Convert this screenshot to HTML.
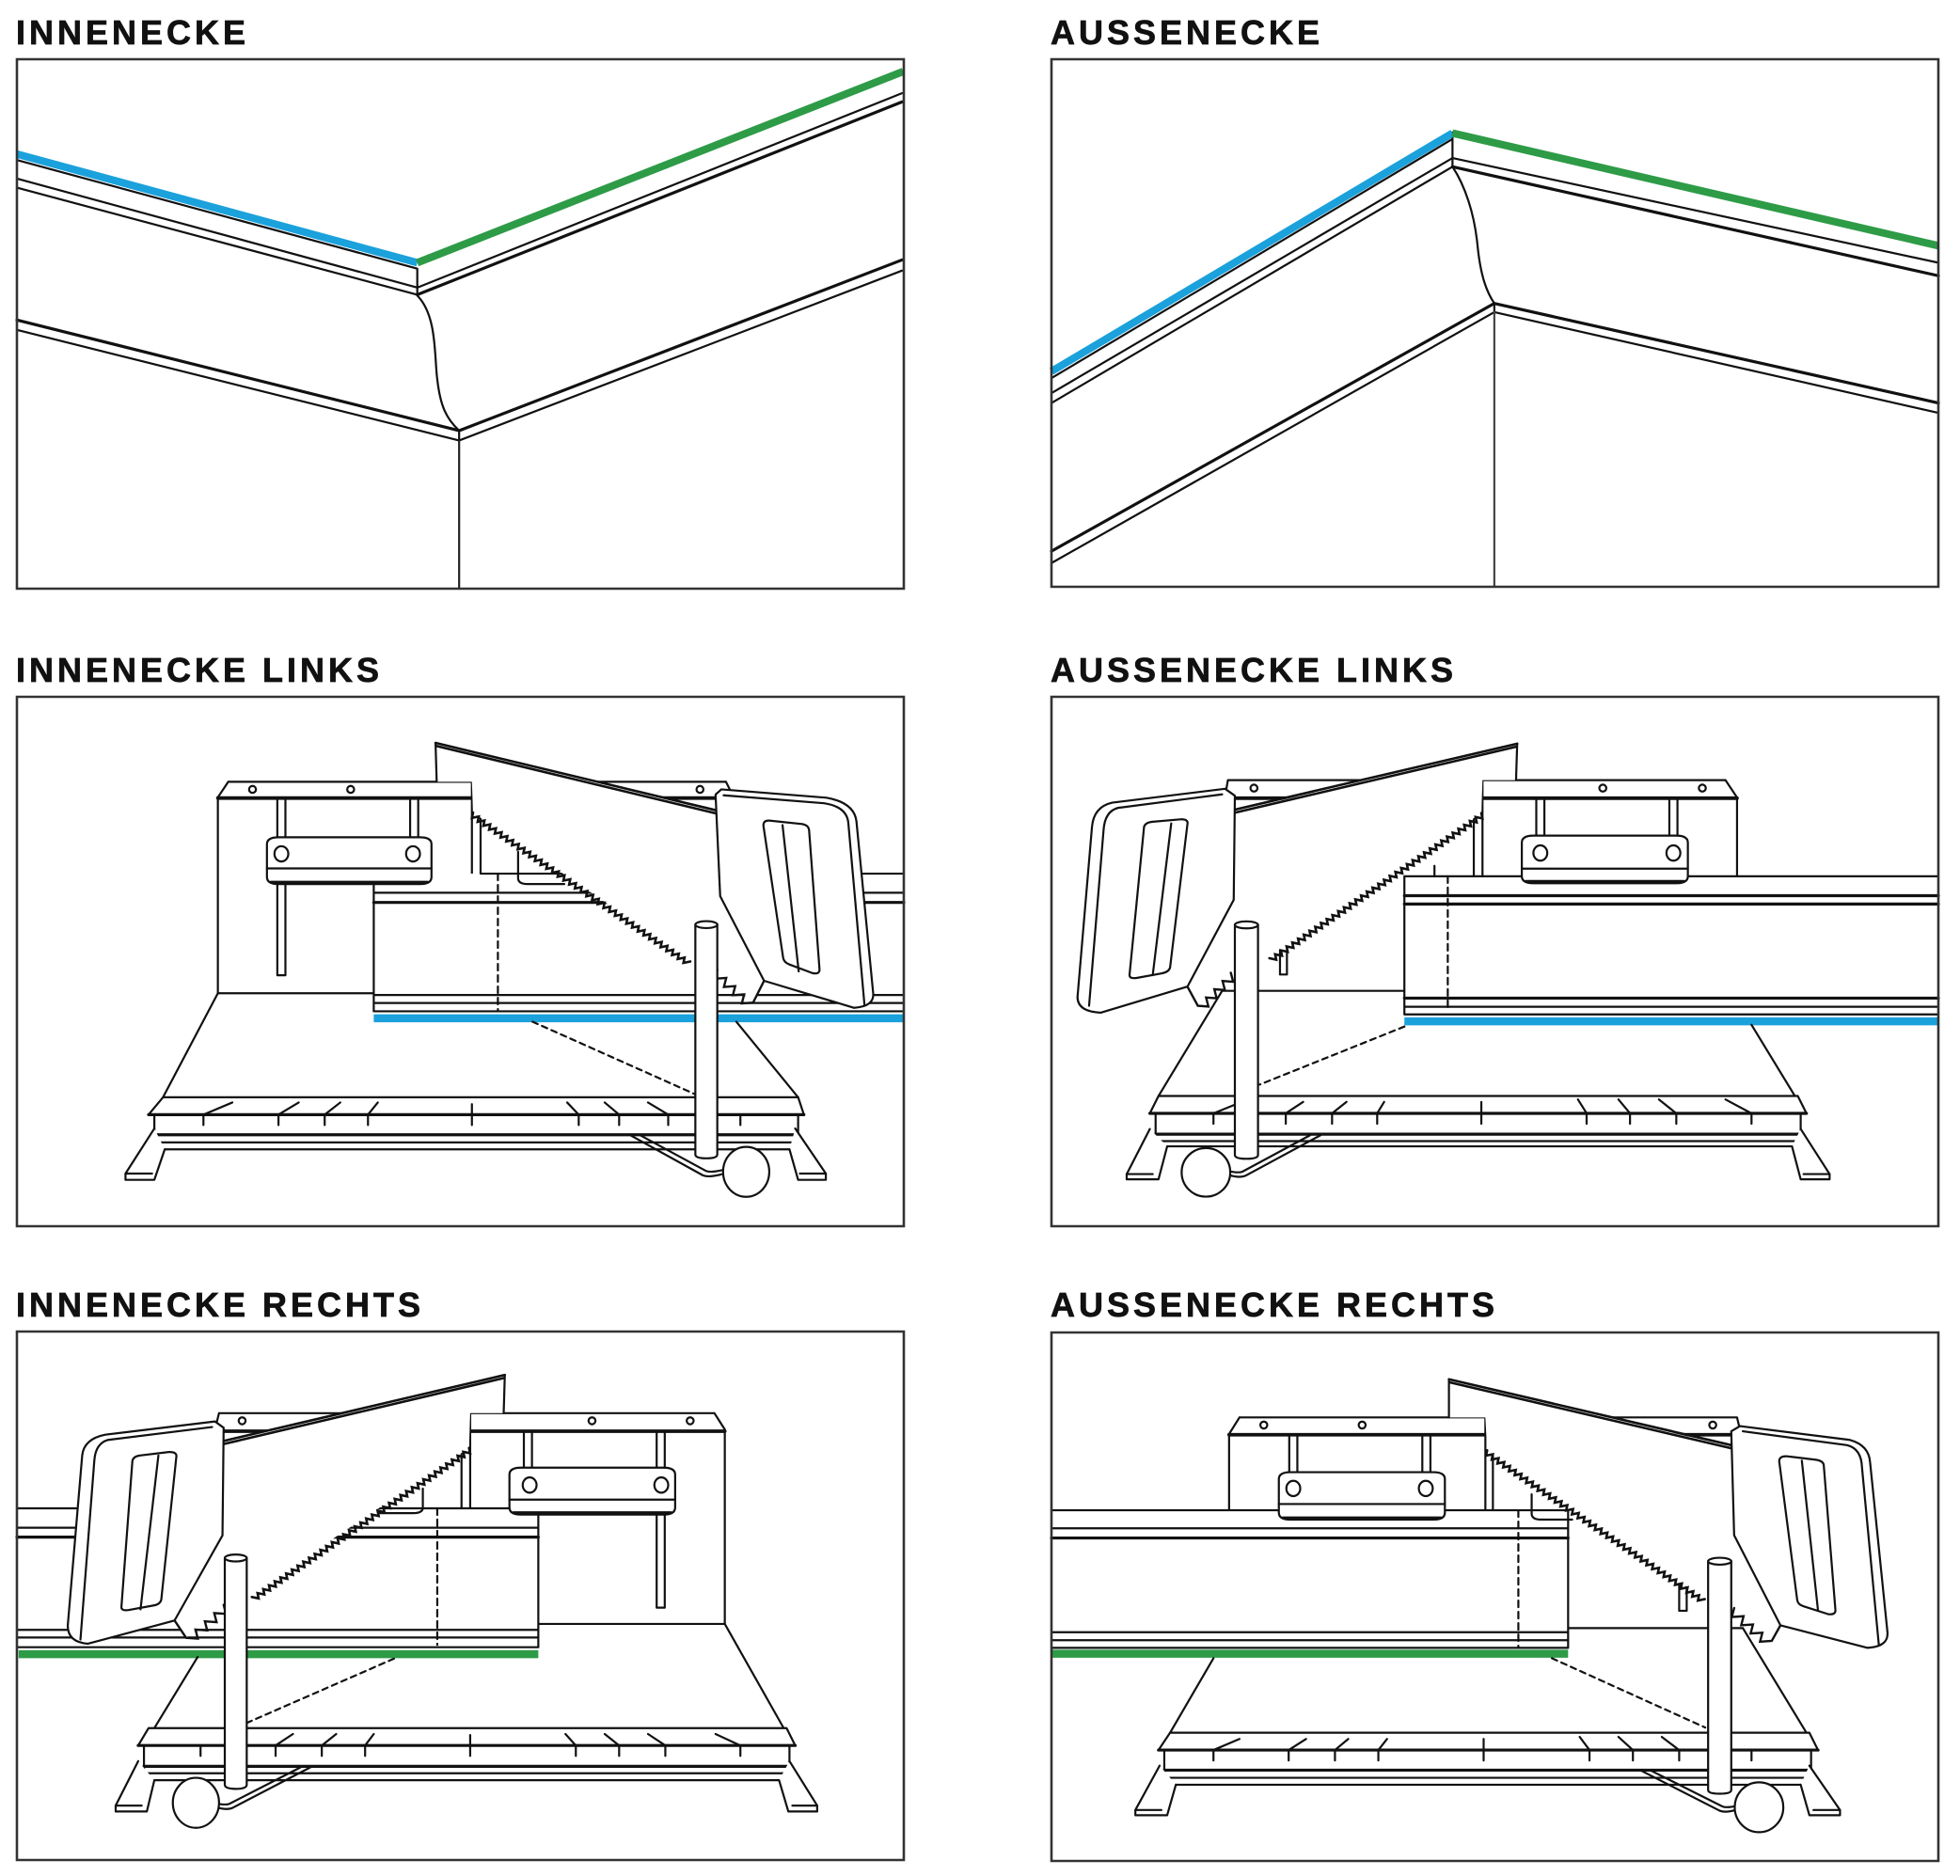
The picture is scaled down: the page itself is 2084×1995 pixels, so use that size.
<!DOCTYPE html>
<html><head><meta charset="utf-8"><title>Innenecke / Aussenecke</title>
<style>
html,body{margin:0;padding:0;background:#fff;}
svg{display:block;}
svg path, svg ellipse, svg rect{vector-effect:non-scaling-stroke;}
</style></head>
<body>
<svg xmlns="http://www.w3.org/2000/svg" width="2084" height="1995" viewBox="0 0 2084 1995">
<rect x="0" y="0" width="2084" height="1995" fill="#fff"/>

<!-- TITLES -->
<g font-family="Liberation Sans, Arial, sans-serif" font-weight="bold" font-size="36" letter-spacing="4" fill="#111" stroke="#111" stroke-width="0.7">
<text x="17" y="47">INNENECKE</text>
<text x="1117" y="47">AUSSENECKE</text>
<text x="17" y="725">INNENECKE LINKS</text>
<text x="1117" y="725">AUSSENECKE LINKS</text>
<text x="17" y="1400">INNENECKE RECHTS</text>
<text x="1117" y="1400">AUSSENECKE RECHTS</text>
</g>

<!-- PANEL 1 INNENECKE -->
<g transform="matrix(0.66408 0 0 0.42016 0.074 -0.024)" fill="none" stroke="#111" stroke-width="2.2" stroke-linejoin="round" stroke-linecap="round">
<path d="M27,405 L668,680 M27,452 L668,728 M27,475 L668,746 M668,728 L1444,236 M668,680 L668,746"/>
<path stroke-width="3.2" d="M668,746 L1444,258"/>
<path stroke-width="3.2" d="M27,810 L735,1090 L1444,658"/>
<path d="M27,835 L735,1115 L1444,685 M735,1090 L735,1115"/>
<path d="M668,748 C700,800 695,900 700,960 C705,1030 715,1060 735,1090"/>
<path stroke="#222" d="M735,1115 V1490"/>
<path stroke="#1ba1db" stroke-width="8" stroke-linecap="butt" d="M27,390 L668,665"/>
<path stroke="#2e9b47" stroke-width="8" stroke-linecap="butt" d="M668,665 L1446,181"/>
</g>

<!-- PANEL 2 AUSSENECKE -->
<g transform="matrix(0.66408 0 0 0.42020 1043.0 -0.05)" fill="none" stroke="#111" stroke-width="2.2" stroke-linejoin="round" stroke-linecap="round">
<path d="M113,957 L755,352 M113,995 L755,400 M113,1020 L755,422 M755,400 L1533,665 M755,335 L755,422"/>
<path stroke-width="3.2" d="M755,422 L1533,698"/>
<path stroke-width="3.2" d="M113,1395 L822,768 L1533,1020"/>
<path d="M113,1425 L822,790 L1533,1045 M822,768 V790"/>
<path d="M755,422 C775,470 790,540 795,620 C800,700 810,740 822,768"/>
<path stroke="#444" d="M822,790 V1485"/>
<path stroke="#1ba1db" stroke-width="8" stroke-linecap="butt" d="M113,940 L755,337"/>
<path stroke="#2e9b47" stroke-width="8" stroke-linecap="butt" d="M755,337 L1533,622"/>
</g>

<!-- PANEL 3 INNENECKE LINKS -->
<g transform="matrix(0.61390 0 0 0.36875 10.647 739.15)" fill="none" stroke="#111" stroke-width="2.2" stroke-linejoin="round" stroke-linecap="round">
<path d="M378,250 H1240 M378,250 L360,295 M1240,250 L1252,290 M360,295 V860 M360,860 H630 M800,250 V515 M815,302 V515"/>
<path stroke-width="3.8" d="M360,297 H1252"/>
<ellipse cx="420" cy="272" rx="6" ry="10"/><ellipse cx="590" cy="272" rx="6" ry="10"/><ellipse cx="1195" cy="272" rx="6" ry="10"/>
<path d="M463,302 V808 H477 V302 M693,302 V410 M707,302 V410"/>
<rect x="630" y="515" width="918" height="397" fill="#fff" stroke="none"/>
<path d="M815,515 H1548 M630,570 H1548 M630,865 H1548 M630,888 H1548 M630,912 H1548 M630,545 V912"/>
<path stroke-width="3.2" d="M630,598 H1548"/>
<path stroke-dasharray="7 5" d="M845,515 V912"/>
<path d="M880,452 V528 Q880,545 897,545 H960"/>
<path fill="#fff" d="M465,410 H710 Q730,410 730,430 V525 Q730,545 710,545 H465 Q445,545 445,525 V430 Q445,410 465,410 Z"/>
<path d="M445,500 H730"/><path stroke-width="3.2" d="M452,540 H723"/>
<ellipse cx="470" cy="458" rx="12" ry="22"/><ellipse cx="698" cy="458" rx="12" ry="22"/>
<path fill="#fff" stroke="none" d="M737,138 L1222,332 L1230,580 L1306,824 L1287,887 L1225,792 L1180,766 L802,339 L800,250 L739,250 Z"/>
<path stroke-width="2.6" d="M737,138 L1222,332 M739,147 L1222,341"/>
<path d="M737,138 L739,250"/>
<path stroke-width="2.6" stroke-linejoin="miter" d="M802,339 l-1.9,15.4 11.8,-4.1 -1.9,15.4 11.8,-4.1 -1.9,15.4 11.8,-4.1 -1.9,15.4 11.8,-4.1 -1.9,15.4 11.8,-4.1 -1.9,15.4 11.8,-4.1 -1.9,15.4 11.8,-4.1 -1.9,15.4 11.8,-4.1 -1.9,15.4 11.8,-4.1 -1.9,15.4 11.8,-4.1 -1.9,15.4 11.8,-4.1 -1.9,15.4 11.8,-4.1 -1.9,15.4 11.8,-4.1 -1.9,15.4 11.8,-4.1 -1.9,15.4 11.8,-4.1 -1.9,15.4 11.8,-4.1 -1.9,15.4 11.8,-4.1 -1.9,15.4 11.8,-4.1 -1.9,15.4 11.8,-4.1 -1.9,15.4 11.8,-4.1 -1.9,15.4 11.8,-4.1 -1.9,15.4 11.8,-4.1 -1.9,15.4 11.8,-4.1 -1.9,15.4 11.8,-4.1 -1.9,15.4 11.8,-4.1 -1.9,15.4 11.8,-4.1 -1.9,15.4 11.8,-4.1 -1.9,15.4 11.8,-4.1 -1.9,15.4 11.8,-4.1 -1.9,15.4 11.8,-4.1 -1.9,15.4 11.8,-4.1 -1.9,15.4 11.8,-4.1 -1.9,15.4 11.8,-4.1 -1.9,15.4 11.8,-4.1 -1.9,15.4 11.8,-4.1 -1.9,15.4 11.8,-4.1 -1.9,15.4 11.8,-4.1 -1.9,15.4 11.8,-4.1"/>
<path stroke-width="2.4" stroke-linejoin="miter" d="M1225,792 l-4,26 19.5,-2.25 -4,26 19.5,-2.25 -4,26 19.5,-2.25 -4,26 19.5,-2.25 L1306,824"/>
<path fill="#fff" d="M1222,287 L1232,272 L1414,296 Q1462,310 1466,364 L1495,860 Q1497,898 1462,902 L1306,824 L1230,580 Z"/>
<path d="M1236,289 L1410,312 Q1450,322 1452,370 L1480,895"/>
<path d="M1315,362 L1372,372 Q1383,375 1384,390 L1402,790 Q1403,806 1390,802 L1350,777 Q1340,771 1339,757 L1305,378 Q1304,361 1315,362 Z"/>
<path d="M1338,375 L1366,797"/>
<path stroke="#1ba1db" stroke-width="8.5" stroke-linecap="butt" d="M630,932 H1548"/>
<path d="M360,860 L265,1160 M1258,942 L1365,1160"/>
<path stroke-dasharray="6 5" d="M905,942 L1185,1150"/>
<path fill="#fff" d="M265,1160 H1365 L1375,1210 H240 Z"/>
<path stroke-width="3.2" d="M240,1210 H1375"/>
<path d="M250,1210 V1305 M1365,1210 V1305 M255,1290 H1365 M255,1310 H1365"/>
<path stroke-width="3.2" d="M250,1268 H1365"/>
<path d="M335,1210 V1240 M465,1210 V1240 M545,1210 V1240 M620,1210 V1240 M800,1180 V1240 M985,1210 V1240 M1055,1210 V1240 M1140,1210 V1240 M1265,1210 V1240 M335,1210 L385,1175 M465,1210 L500,1175 M545,1210 L572,1175 M620,1210 L637,1175 M985,1210 L965,1175 M1055,1210 L1030,1175 M1140,1210 L1105,1175"/>
<path fill="#fff" d="M250,1250 L200,1380 V1398 H250 L268,1310 M1360,1250 L1413,1380 V1398 H1365 L1350,1310"/>
<path d="M200,1380 H246 M1413,1380 H1368"/>
<path d="M1075,1270 L1200,1385 Q1210,1392 1232,1382 M1092,1270 L1205,1372 Q1212,1378 1234,1370"/>
<ellipse cx="1275" cy="1375" rx="40" ry="72" fill="#fff"/>
<path fill="#fff" d="M1187,662 V1325 Q1187,1336 1206,1336 Q1225,1336 1225,1325 V662"/>
<ellipse cx="1206" cy="662" rx="19" ry="10" fill="#fff"/>
</g>

<!-- PANEL 4 AUSSENECKE LINKS -->
<g transform="matrix(0.61514 0 0 0.36915 1114.92 739.15)" fill="none" stroke="#111" stroke-width="2.2" stroke-linejoin="round" stroke-linecap="round">
<path d="M310,245 H1170 M310,245 L305,292 M1170,245 L1190,295 M1190,295 V522 M750,245 V522 M735,302 V522 M667,492 V522 M300,852 H615"/>
<path stroke-width="3.8" d="M305,297 H1190"/>
<ellipse cx="355" cy="268" rx="6" ry="10"/><ellipse cx="958" cy="268" rx="6" ry="10"/><ellipse cx="1130" cy="268" rx="6" ry="10"/>
<path d="M400,735 V805 H412 V735"/>
<path d="M843,302 V410 M857,302 V410 M1073,302 V410 M1087,302 V410"/>
<rect x="615" y="522" width="923" height="398" fill="#fff" stroke="none"/>
<path d="M615,522 H1538 M615,898 H1538 M615,920 H1538 M615,522 V920"/>
<path stroke-width="3.2" d="M615,578 H1538 M615,602 H1538 M615,873 H1538"/>
<path stroke-dasharray="7 5" d="M690,522 V912"/>
<path fill="#fff" d="M838,405 H1085 Q1105,405 1105,425 V522 Q1105,542 1085,542 H838 Q818,542 818,522 V425 Q818,405 838,405 Z"/>
<path d="M818,500 H1105"/><path stroke-width="3.2" d="M825,537 H1098"/>
<ellipse cx="850" cy="455" rx="12" ry="22"/><ellipse cx="1080" cy="455" rx="12" ry="22"/>
<path fill="#fff" stroke="none" d="M810,140 L322,335 L320,590 L240,840 L258,895 L315,800 L365,770 L748,340 L750,245 L808,245 Z"/>
<path stroke-width="2.6" d="M810,140 L322,330 M808,149 L322,339"/>
<path d="M810,140 L808,245"/>
<path stroke-width="2.6" stroke-linejoin="miter" d="M748,340 l1.9,15.4 -11.8,-4.1 1.9,15.4 -11.8,-4.1 1.9,15.4 -11.8,-4.1 1.9,15.4 -11.8,-4.1 1.9,15.4 -11.8,-4.1 1.9,15.4 -11.8,-4.1 1.9,15.4 -11.8,-4.1 1.9,15.4 -11.8,-4.1 1.9,15.4 -11.8,-4.1 1.9,15.4 -11.8,-4.1 1.9,15.4 -11.8,-4.1 1.9,15.4 -11.8,-4.1 1.9,15.4 -11.8,-4.1 1.9,15.4 -11.8,-4.1 1.9,15.4 -11.8,-4.1 1.9,15.4 -11.8,-4.1 1.9,15.4 -11.8,-4.1 1.9,15.4 -11.8,-4.1 1.9,15.4 -11.8,-4.1 1.9,15.4 -11.8,-4.1 1.9,15.4 -11.8,-4.1 1.9,15.4 -11.8,-4.1 1.9,15.4 -11.8,-4.1 1.9,15.4 -11.8,-4.1 1.9,15.4 -11.8,-4.1 1.9,15.4 -11.8,-4.1 1.9,15.4 -11.8,-4.1 1.9,15.4 -11.8,-4.1 1.9,15.4 -11.8,-4.1 1.9,15.4 -11.8,-4.1 1.9,15.4 -11.8,-4.1 1.9,15.4 -11.8,-4.1 1.9,15.4 -11.8,-4.1 1.9,15.4 -11.8,-4.1 1.9,15.4 -11.8,-4.1 1.9,15.4 -11.8,-4.1 1.9,15.4 -11.8,-4.1"/>
<path stroke-width="2.4" stroke-linejoin="miter" d="M315,800 l4,26 -18.25,-2.25 4,26 -18.25,-2.25 4,26 -18.25,-2.25 4,26 -18.25,-2.25 L240,840"/>
<path fill="#fff" d="M322,290 L305,270 L110,310 Q78,322 75,380 L50,870 Q50,912 90,915 L240,840 L320,590 Z"/>
<path d="M300,286 L120,325 Q97,335 95,390 L70,895"/>
<path d="M180,365 L228,358 Q242,357 240,372 L210,785 Q208,798 195,802 L152,815 Q139,818 140,805 L165,380 Q167,367 180,365 Z"/>
<path d="M212,370 L180,807"/>
<path stroke="#1ba1db" stroke-width="8.5" stroke-linecap="butt" d="M615,940 H1538"/>
<path d="M300,852 L190,1155 M1215,950 L1290,1155"/>
<path stroke-dasharray="6 5" d="M615,955 L365,1122"/>
<path fill="#fff" d="M190,1155 H1295 L1310,1205 H175 Z"/>
<path stroke-width="3.2" d="M175,1205 H1310"/>
<path d="M185,1205 V1300 M1300,1205 V1300 M185,1285 H1300 M190,1300 H1300"/>
<path stroke-width="3.2" d="M185,1265 H1300"/>
<path d="M285,1205 V1235 M410,1205 V1235 M490,1205 V1235 M568,1205 V1235 M748,1172 V1235 M930,1205 V1235 M1005,1205 V1235 M1085,1205 V1235 M1215,1205 V1235 M285,1205 L325,1178 M410,1205 L440,1172 M490,1205 L515,1172 M568,1205 L580,1172 M930,1205 L915,1165 M1005,1205 L985,1165 M1085,1205 L1055,1165 M1215,1205 L1170,1165"/>
<path fill="#fff" d="M175,1250 L135,1380 V1395 H190 L205,1300 M1300,1250 L1350,1380 V1395 H1300 L1285,1300"/>
<path d="M135,1380 H180 M1350,1380 H1305"/>
<path d="M470,1268 L340,1385 Q330,1392 310,1382 M452,1268 L335,1373 Q328,1378 308,1370"/>
<ellipse cx="272" cy="1375" rx="42" ry="70" fill="#fff"/>
<path fill="#fff" d="M322,662 V1325 Q322,1336 342,1336 Q362,1336 362,1325 V662"/>
<ellipse cx="342" cy="662" rx="20" ry="10" fill="#fff"/>
</g>

<!-- PANEL 5 INNENECKE RECHTS -->
<g transform="matrix(0.61390 0 0 0.36929 10.647 1414.9)" fill="none" stroke="#111" stroke-width="2.2" stroke-linejoin="round" stroke-linecap="round">
<path d="M362,238 H1220 M362,238 L355,285 M1220,238 L1238,285 M1238,285 V845 M915,845 H1238 M797,238 V512 M782,300 V512"/>
<path stroke-width="3.8" d="M355,290 H1238"/>
<ellipse cx="402" cy="260" rx="6" ry="10"/><ellipse cx="1008" cy="260" rx="6" ry="10"/><ellipse cx="1178" cy="260" rx="6" ry="10"/>
<path d="M890,290 V400 M904,290 V400 M1120,290 V798 H1134 V290"/>
<rect x="12" y="512" width="903" height="400" fill="#fff" stroke="none"/>
<path d="M12,512 H915 M12,568 H915 M12,862 H915 M12,884 H915 M12,912 H915 M915,530 V912"/>
<path stroke-width="3.2" d="M12,595 H915"/>
<path stroke-dasharray="7 5" d="M740,512 V905"/>
<path d="M715,455 V510 Q715,526 698,526 H640"/>
<path fill="#fff" d="M885,395 H1132 Q1152,395 1152,415 V510 Q1152,530 1132,530 H885 Q865,530 865,510 V415 Q865,395 885,395 Z"/>
<path d="M865,487 H1152"/><path stroke-width="3.2" d="M872,525 H1145"/>
<ellipse cx="900" cy="445" rx="12" ry="22"/><ellipse cx="1128" cy="445" rx="12" ry="22"/>
<path fill="#fff" stroke="none" d="M857,128 L370,320 L368,590 L285,835 L305,885 L370,790 L415,760 L795,338 L797,238 L855,238 Z"/>
<path stroke-width="2.6" d="M857,128 L370,318 M855,137 L370,327"/>
<path d="M857,128 L855,238"/>
<path stroke-width="2.6" stroke-linejoin="miter" d="M795,338 l1.9,15.4 -11.8,-4.1 1.9,15.4 -11.8,-4.1 1.9,15.4 -11.8,-4.1 1.9,15.4 -11.8,-4.1 1.9,15.4 -11.8,-4.1 1.9,15.4 -11.8,-4.1 1.9,15.4 -11.8,-4.1 1.9,15.4 -11.8,-4.1 1.9,15.4 -11.8,-4.1 1.9,15.4 -11.8,-4.1 1.9,15.4 -11.8,-4.1 1.9,15.4 -11.8,-4.1 1.9,15.4 -11.8,-4.1 1.9,15.4 -11.8,-4.1 1.9,15.4 -11.8,-4.1 1.9,15.4 -11.8,-4.1 1.9,15.4 -11.8,-4.1 1.9,15.4 -11.8,-4.1 1.9,15.4 -11.8,-4.1 1.9,15.4 -11.8,-4.1 1.9,15.4 -11.8,-4.1 1.9,15.4 -11.8,-4.1 1.9,15.4 -11.8,-4.1 1.9,15.4 -11.8,-4.1 1.9,15.4 -11.8,-4.1 1.9,15.4 -11.8,-4.1 1.9,15.4 -11.8,-4.1 1.9,15.4 -11.8,-4.1 1.9,15.4 -11.8,-4.1 1.9,15.4 -11.8,-4.1 1.9,15.4 -11.8,-4.1 1.9,15.4 -11.8,-4.1 1.9,15.4 -11.8,-4.1 1.9,15.4 -11.8,-4.1 1.9,15.4 -11.8,-4.1 1.9,15.4 -11.8,-4.1 1.9,15.4 -11.8,-4.1 1.9,15.4 -11.8,-4.1"/>
<path stroke-width="2.4" stroke-linejoin="miter" d="M370,790 l4,26 -20.25,-2.25 4,26 -20.25,-2.25 4,26 -20.25,-2.25 4,26 -20.25,-2.25 L285,835"/>
<path fill="#fff" d="M370,280 L355,262 L165,300 Q128,312 125,360 L100,850 Q100,898 135,902 L285,835 L368,590 Z"/>
<path d="M350,278 L170,315 Q148,325 146,375 L122,890"/>
<path d="M225,360 L275,350 Q290,349 288,365 L262,775 Q260,789 248,792 L205,805 Q192,808 193,795 L212,375 Q214,362 225,360 Z"/>
<path d="M257,360 L226,803"/>
<path stroke="#2e9b47" stroke-width="8.5" stroke-linecap="butt" d="M15,932 H915"/>
<path d="M325,940 L250,1145 M1238,845 L1340,1145"/>
<path stroke-dasharray="6 5" d="M665,945 L410,1130"/>
<path fill="#fff" d="M240,1145 H1345 L1360,1195 H222 Z"/>
<path stroke-width="3.2" d="M222,1195 H1360"/>
<path d="M232,1195 V1290 M1350,1195 V1290 M232,1275 H1350 M237,1295 H1350"/>
<path stroke-width="3.2" d="M232,1255 H1350"/>
<path d="M330,1195 V1225 M460,1195 V1225 M540,1195 V1225 M615,1195 V1225 M797,1165 V1225 M980,1195 V1225 M1055,1195 V1225 M1135,1195 V1225 M1265,1195 V1225 M460,1195 L490,1162 M540,1195 L565,1162 M615,1195 L630,1162 M980,1195 L962,1162 M1055,1195 L1030,1162 M1135,1195 L1105,1162 M1265,1195 L1222,1162"/>
<path fill="#fff" d="M222,1240 L183,1368 V1385 H237 L250,1295 M1350,1240 L1398,1368 V1385 H1348 L1332,1295"/>
<path d="M183,1368 H228 M1398,1368 H1355"/>
<path d="M520,1258 L385,1375 Q375,1382 355,1372 M503,1258 L380,1363 Q373,1368 353,1360"/>
<ellipse cx="322" cy="1360" rx="40" ry="72" fill="#fff"/>
<path fill="#fff" d="M372,655 V1308 Q372,1320 391,1320 Q410,1320 410,1308 V655"/>
<ellipse cx="391" cy="655" rx="19" ry="10" fill="#fff"/>
</g>

<!-- PANEL 6 AUSSENECKE RECHTS -->
<g transform="matrix(0.61514 0 0 0.36849 1114.92 1415.2)" fill="none" stroke="#111" stroke-width="2.2" stroke-linejoin="round" stroke-linecap="round">
<path d="M330,250 H1190 M330,250 L312,298 M1190,250 L1195,285 M312,298 V518 M755,250 V518 M768,302 V518 M898,858 H1200"/>
<path stroke-width="3.8" d="M312,300 H1195"/>
<ellipse cx="372" cy="272" rx="6" ry="10"/><ellipse cx="542" cy="272" rx="6" ry="10"/><ellipse cx="1148" cy="272" rx="6" ry="10"/>
<path d="M1090,735 V808 H1103 V735"/>
<path d="M416,302 V410 M430,302 V410 M646,302 V410 M660,302 V410"/>
<rect x="5" y="518" width="893" height="397" fill="#fff" stroke="none"/>
<path d="M5,518 H898 M5,570 H898 M5,870 H898 M5,893 H898 M5,915 H898 M898,518 V915"/>
<path stroke-width="3.2" d="M5,598 H898"/>
<path stroke-dasharray="7 5" d="M812,518 V912"/>
<path d="M835,472 V528 Q835,545 852,545 H905"/>
<path fill="#fff" d="M418,408 H665 Q685,408 685,428 V525 Q685,545 665,545 H418 Q398,545 398,525 V428 Q398,408 418,408 Z"/>
<path d="M398,500 H685"/><path stroke-width="3.2" d="M405,540 H678"/>
<ellipse cx="423" cy="455" rx="12" ry="22"/><ellipse cx="652" cy="455" rx="12" ry="22"/>
<path fill="#fff" stroke="none" d="M692,140 L1180,335 L1185,590 L1265,850 L1250,895 L1185,800 L1135,775 L758,345 L755,250 L692,250 Z"/>
<path stroke-width="2.6" d="M692,140 L1180,330 M694,149 L1180,339"/>
<path d="M692,140 V250"/>
<path stroke-width="2.6" stroke-linejoin="miter" d="M758,345 l-1.9,15.4 11.8,-4.1 -1.9,15.4 11.8,-4.1 -1.9,15.4 11.8,-4.1 -1.9,15.4 11.8,-4.1 -1.9,15.4 11.8,-4.1 -1.9,15.4 11.8,-4.1 -1.9,15.4 11.8,-4.1 -1.9,15.4 11.8,-4.1 -1.9,15.4 11.8,-4.1 -1.9,15.4 11.8,-4.1 -1.9,15.4 11.8,-4.1 -1.9,15.4 11.8,-4.1 -1.9,15.4 11.8,-4.1 -1.9,15.4 11.8,-4.1 -1.9,15.4 11.8,-4.1 -1.9,15.4 11.8,-4.1 -1.9,15.4 11.8,-4.1 -1.9,15.4 11.8,-4.1 -1.9,15.4 11.8,-4.1 -1.9,15.4 11.8,-4.1 -1.9,15.4 11.8,-4.1 -1.9,15.4 11.8,-4.1 -1.9,15.4 11.8,-4.1 -1.9,15.4 11.8,-4.1 -1.9,15.4 11.8,-4.1 -1.9,15.4 11.8,-4.1 -1.9,15.4 11.8,-4.1 -1.9,15.4 11.8,-4.1 -1.9,15.4 11.8,-4.1 -1.9,15.4 11.8,-4.1 -1.9,15.4 11.8,-4.1 -1.9,15.4 11.8,-4.1 -1.9,15.4 11.8,-4.1 -1.9,15.4 11.8,-4.1 -1.9,15.4 11.8,-4.1 -1.9,15.4 11.8,-4.1 -1.9,15.4 11.8,-4.1 -1.9,15.4 11.8,-4.1"/>
<path stroke-width="2.4" stroke-linejoin="miter" d="M1185,800 l-4,26 20.25,-2.25 -4,26 20.25,-2.25 -4,26 20.25,-2.25 -4,26 20.25,-2.25 L1265,850"/>
<path fill="#fff" d="M1180,290 L1195,275 L1385,315 Q1418,330 1420,380 L1450,870 Q1452,912 1415,915 L1265,850 L1185,590 Z"/>
<path d="M1200,290 L1380,330 Q1405,340 1406,395 L1435,905"/>
<path d="M1275,362 L1325,372 Q1340,375 1340,390 L1360,805 Q1361,820 1348,818 L1305,795 Q1295,790 1294,777 L1263,378 Q1262,362 1275,362 Z"/>
<path d="M1302,375 L1330,808"/>
<path stroke="#2e9b47" stroke-width="8.5" stroke-linecap="butt" d="M5,932 H898"/>
<path d="M285,945 L210,1160 M1200,858 L1310,1160"/>
<path stroke-dasharray="6 5" d="M870,945 L1135,1145"/>
<path fill="#fff" d="M210,1160 H1315 L1330,1210 H190 Z"/>
<path stroke-width="3.2" d="M190,1210 H1330"/>
<path d="M200,1210 V1305 M1318,1210 V1305 M200,1290 H1318 M205,1310 H1318"/>
<path stroke-width="3.2" d="M200,1268 H1318"/>
<path d="M285,1210 V1240 M415,1210 V1240 M495,1210 V1240 M570,1210 V1240 M752,1178 V1240 M935,1210 V1240 M1010,1210 V1240 M1090,1210 V1240 M1215,1210 V1240 M285,1210 L330,1178 M415,1210 L445,1178 M495,1210 L518,1178 M570,1210 L585,1178 M935,1210 L918,1172 M1010,1210 L985,1172 M1090,1210 L1060,1172"/>
<path fill="#fff" d="M192,1255 L150,1383 V1398 H205 L220,1310 M1315,1255 L1368,1383 V1398 H1315 L1300,1310"/>
<path d="M150,1383 H195 M1368,1383 H1322"/>
<path d="M1025,1270 L1160,1385 Q1170,1392 1190,1382 M1042,1270 L1165,1373 Q1172,1378 1192,1370"/>
<ellipse cx="1228" cy="1375" rx="42" ry="72" fill="#fff"/>
<path fill="#fff" d="M1140,665 V1325 Q1140,1336 1160,1336 Q1180,1336 1180,1325 V665"/>
<ellipse cx="1160" cy="665" rx="20" ry="10" fill="#fff"/>
</g>

<!-- PANEL BORDERS -->
<g fill="none" stroke="#333" stroke-width="2.6">
<rect x="18" y="63" width="943" height="563"/>
<rect x="1118" y="63" width="943" height="561"/>
<rect x="18" y="741" width="943" height="563"/>
<rect x="1118" y="741" width="943" height="563"/>
<rect x="18" y="1416" width="943" height="562"/>
<rect x="1118" y="1417" width="943" height="562"/>
</g>
</svg>
</body></html>
